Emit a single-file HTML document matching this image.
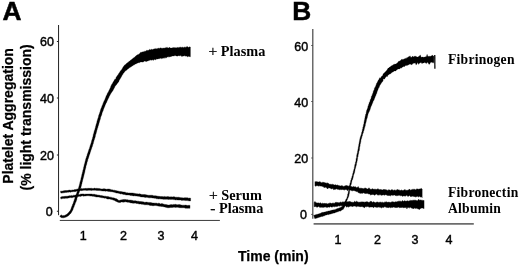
<!DOCTYPE html>
<html lang="en">
<head>
<meta charset="utf-8">
<title>Platelet aggregation</title>
<style>
html,body{margin:0;padding:0;background:#fff;}
body{width:520px;height:265px;overflow:hidden;}
svg{display:block;}
.pl{font:bold 26.3px "Liberation Sans",Arial,sans-serif;fill:#000;stroke:#000;stroke-width:0.5px;}
.tk{font:12.5px "Liberation Sans",Arial,sans-serif;fill:#000;stroke:#000;stroke-width:0.42px;}
.ax{font:bold 14px "Liberation Sans",Arial,sans-serif;fill:#000;stroke:#000;stroke-width:0.25px;}
.sf{font:bold 14.3px "Liberation Serif","Times New Roman",serif;fill:#000;}
.sf .rg{font-weight:normal;font-size:15.5px;stroke:#000;stroke-width:0.25px;}
.sr{font-size:13.6px;letter-spacing:0.25px;}
</style>
</head>
<body>
<svg width="520" height="265" viewBox="0 0 520 265">
<defs><filter id="soft" x="-2%" y="-2%" width="104%" height="104%"><feGaussianBlur stdDeviation="0.32"/></filter></defs>
<rect width="520" height="265" fill="#fff"/>
<g filter="url(#soft)">
<g id="axes">
<line x1="58.55" y1="25" x2="58.55" y2="215.2" stroke="#222" stroke-width="1"/>
<line x1="59.8" y1="220.45" x2="219.9" y2="220.45" stroke="#333" stroke-width="0.95"/>
<line x1="56.9" y1="41.5" x2="58.5" y2="41.5" stroke="#222" stroke-width="1"/>
<line x1="56.9" y1="98" x2="58.5" y2="98" stroke="#222" stroke-width="1"/>
<line x1="56.9" y1="155" x2="58.5" y2="155" stroke="#222" stroke-width="1"/>
<line x1="56.9" y1="211.25" x2="58.5" y2="211.25" stroke="#222" stroke-width="1"/>
<line x1="312.8" y1="29" x2="312.8" y2="218.7" stroke="#444" stroke-width="1.2"/>
<line x1="313.6" y1="223.95" x2="473.8" y2="223.95" stroke="#6c6c6c" stroke-width="1.7"/>
<line x1="311.3" y1="45.5" x2="312.8" y2="45.5" stroke="#444" stroke-width="1"/>
<line x1="311.3" y1="101.5" x2="312.8" y2="101.5" stroke="#444" stroke-width="1"/>
<line x1="311.3" y1="158" x2="312.8" y2="158" stroke="#444" stroke-width="1"/>
<line x1="311.3" y1="214.4" x2="312.8" y2="214.4" stroke="#444" stroke-width="1"/>
</g>
<g id="curves">
<polygon points="59.76,216.45 60.50,217.03 61.45,217.64 62.70,217.80 63.87,217.87 64.79,217.41 65.67,217.14 66.65,216.86 67.60,216.32 68.47,215.77 69.05,215.00 69.79,214.42 70.47,213.76 71.09,213.04 71.53,212.15 72.08,211.31 72.53,210.41 73.02,209.59 73.20,208.70 73.51,207.87 74.04,207.11 74.21,206.20 74.51,205.35 74.99,204.56 75.15,203.66 75.54,202.83 75.89,202.00 76.27,201.16 76.53,200.29 76.85,199.44 76.94,198.52 77.27,197.67 77.53,196.81 77.89,195.99 78.26,195.17 78.44,194.29 78.76,193.48 79.17,192.70 79.32,191.80 79.79,191.01 80.07,190.12 80.29,189.21 80.72,188.37 80.89,187.46 81.14,186.58 81.42,185.71 81.51,184.80 81.88,183.96 82.02,183.07 82.15,182.18 82.52,181.35 82.64,180.45 82.85,179.57 83.13,178.71 83.29,177.82 83.66,176.98 83.70,176.06 84.04,175.21 84.18,174.31 84.42,173.44 84.70,172.59 84.88,171.72 84.96,170.82 85.21,169.95 85.35,169.06 85.68,168.21 85.90,167.34 85.96,166.43 86.23,165.57 86.53,164.73 86.82,163.88 86.87,162.97 87.16,162.12 87.53,161.30 87.73,160.43 87.86,159.54 88.20,158.71 88.55,157.88 88.75,157.01 89.09,156.18 89.27,155.29 89.59,154.46 89.98,153.64 90.10,152.73 90.49,151.91 90.70,151.03 90.97,150.17 91.34,149.35 91.64,148.49 91.87,147.62 92.22,146.78 92.56,145.94 92.65,145.02 93.00,144.18 93.38,143.35 93.47,142.43 93.77,141.57 93.97,140.69 94.31,139.85 94.56,138.98 94.83,138.12 95.12,137.26 95.37,136.40 95.45,135.48 95.70,134.62 96.07,133.79 96.21,132.89 96.52,132.04 96.72,131.17 96.89,130.28 97.21,129.44 97.37,128.56 97.79,127.74 97.94,126.85 98.21,126.00 98.51,125.14 98.77,124.28 98.97,123.40 99.27,122.55 99.50,121.68 99.68,120.80 100.07,119.98 100.30,119.11 100.56,118.25 100.66,117.35 100.98,116.51 101.35,115.69 101.70,114.86 101.97,114.01 102.09,113.11 102.41,112.28 102.74,111.45 103.14,110.66 103.37,109.80 103.60,108.93 104.03,108.15 104.35,107.32 104.72,106.51 104.99,105.65 105.32,104.82 105.81,104.06 106.03,103.18 106.59,102.45 106.91,101.61 107.26,100.79 107.55,99.94 107.99,99.15 108.40,98.36 108.88,97.59 109.08,96.70 109.52,95.93 109.98,95.18 110.32,94.39 110.72,93.63 111.31,92.98 111.71,92.17 112.29,91.42 112.86,90.63 113.34,89.81 113.69,88.96 114.16,88.18 114.60,87.43 114.88,86.62 115.41,85.97 115.93,85.30 116.28,84.51 116.84,83.82 117.38,83.13 118.03,82.49 118.56,81.76 118.95,81.32 115.06,78.69 114.90,79.25 114.31,79.94 113.99,80.82 113.51,81.60 113.00,82.37 112.57,83.21 112.03,84.00 111.51,84.83 111.10,85.70 110.72,86.55 110.53,87.45 110.11,88.22 109.71,88.98 109.42,89.77 108.97,90.49 108.65,91.35 108.20,92.18 107.57,92.91 107.24,93.80 106.92,94.68 106.42,95.45 106.04,96.27 105.79,97.15 105.37,97.96 105.14,98.84 104.76,99.67 104.33,100.46 104.02,101.32 103.52,102.09 103.36,103.01 102.86,103.78 102.68,104.69 102.22,105.48 101.88,106.32 101.67,107.22 101.26,108.04 100.89,108.87 100.61,109.74 100.33,110.61 100.14,111.51 99.78,112.34 99.59,113.24 99.18,114.06 98.92,114.93 98.57,115.77 98.45,116.68 98.26,117.57 97.85,118.39 97.68,119.28 97.32,120.11 97.17,121.01 96.84,121.85 96.79,122.77 96.45,123.61 96.11,124.45 95.96,125.34 95.63,126.18 95.54,127.10 95.27,127.96 94.95,128.81 94.81,129.71 94.42,130.53 94.14,131.39 93.96,132.28 93.79,133.17 93.49,134.02 93.19,134.87 93.11,135.78 92.90,136.65 92.59,137.50 92.44,138.39 92.13,139.23 91.87,140.09 91.60,140.94 91.44,141.83 91.21,142.69 90.91,143.53 90.62,144.38 90.24,145.20 90.16,146.11 89.71,146.91 89.61,147.82 89.29,148.66 88.86,149.47 88.68,150.35 88.37,151.20 88.08,152.05 87.80,152.91 87.47,153.75 87.17,154.60 87.05,155.51 86.62,156.32 86.44,157.21 86.07,158.05 85.78,158.91 85.54,159.79 85.37,160.69 85.10,161.55 84.89,162.44 84.74,163.34 84.36,164.17 84.23,165.07 83.99,165.95 83.84,166.84 83.52,167.69 83.45,168.60 83.24,169.47 82.85,170.30 82.81,171.22 82.50,172.08 82.29,172.96 82.15,173.85 81.79,174.69 81.70,175.58 81.51,176.46 81.29,177.33 80.96,178.17 80.91,179.09 80.73,179.97 80.40,180.81 80.15,181.67 79.87,182.54 79.76,183.44 79.49,184.30 79.33,185.18 79.01,186.02 78.81,186.88 78.56,187.72 78.34,188.56 78.01,189.36 77.64,190.15 77.51,191.06 77.03,191.85 76.81,192.75 76.52,193.62 76.19,194.47 75.76,195.29 75.51,196.16 75.21,197.00 74.90,197.85 74.70,198.73 74.34,199.55 74.08,200.40 73.77,201.23 73.56,202.10 73.22,202.93 72.96,203.78 72.49,204.56 72.29,205.45 71.87,206.24 71.62,207.11 71.21,207.92 71.01,208.82 70.69,209.62 70.33,210.32 69.84,210.94 69.36,211.61 68.73,212.19 68.22,212.89 67.64,213.53 66.89,213.97 66.35,214.53 65.73,214.85 65.04,215.23 64.23,215.54 63.40,215.54 62.80,215.67 62.32,215.57 61.74,215.24 61.06,214.73" fill="#000" stroke="#000" stroke-width="0.3" stroke-linejoin="round"/>
<polygon points="116.00,77.53 116.60,76.66 117.20,75.68 117.80,75.10 118.40,74.23 119.00,73.02 119.60,72.49 120.20,71.19 120.80,70.57 121.40,69.91 122.00,68.96 122.60,67.95 123.20,66.85 123.80,66.30 124.40,65.22 125.00,64.73 125.60,64.46 126.20,63.72 126.80,63.35 127.40,62.76 128.00,62.52 128.60,61.76 129.20,61.36 129.80,60.93 130.40,60.36 131.00,59.93 131.60,59.47 132.20,59.08 132.80,58.42 133.40,58.11 134.00,57.47 134.60,57.18 135.20,56.55 135.80,56.02 136.40,55.62 137.00,55.05 137.60,54.65 138.20,54.63 138.80,53.92 139.40,53.84 140.00,53.21 140.60,52.21 141.20,52.21 141.80,52.30 142.40,51.93 143.00,51.72 143.60,51.78 144.20,51.42 144.80,51.13 145.40,51.27 146.00,50.88 146.60,50.27 147.20,50.43 147.80,50.33 148.40,50.37 149.00,50.14 149.60,49.27 150.20,49.79 150.80,49.63 151.40,49.11 152.00,49.83 152.60,49.59 153.20,49.12 153.80,49.14 154.40,48.65 155.00,48.91 155.60,48.45 156.20,48.94 156.80,48.40 157.40,48.45 158.00,48.65 158.60,47.87 159.20,48.65 159.80,48.09 160.40,48.09 161.00,47.66 161.60,48.26 162.20,48.46 162.80,48.04 163.40,48.04 164.00,48.35 164.60,47.93 165.20,48.12 165.80,47.43 166.40,47.91 167.00,46.92 167.60,48.08 168.20,47.91 168.80,47.93 169.40,47.12 170.00,47.97 170.60,47.94 171.20,47.96 171.80,48.10 172.40,47.81 173.00,47.84 173.60,47.59 174.20,47.85 174.80,47.57 175.40,47.73 176.00,47.64 176.60,47.96 177.20,46.96 177.80,47.94 178.40,47.47 179.00,47.50 179.60,47.32 180.20,47.60 180.80,46.81 181.40,47.50 182.00,47.47 182.60,47.10 183.20,47.50 183.80,47.39 184.40,47.34 185.00,46.68 185.60,47.45 186.20,47.36 186.80,46.47 187.40,46.81 188.00,46.83 188.60,47.44 189.20,47.12 189.80,46.80 190.40,47.02 190.40,56.81 189.80,56.63 189.20,56.51 188.60,56.29 188.00,56.63 187.40,56.75 186.80,56.28 186.20,56.03 185.60,56.15 185.00,55.87 184.40,55.85 183.80,56.05 183.20,56.11 182.60,56.06 182.00,56.70 181.40,55.96 180.80,55.61 180.20,55.71 179.60,55.75 179.00,55.91 178.40,55.48 177.80,56.16 177.20,55.90 176.60,55.99 176.00,56.01 175.40,55.55 174.80,55.60 174.20,55.92 173.60,55.98 173.00,55.94 172.40,56.11 171.80,56.35 171.20,56.42 170.60,56.38 170.00,57.14 169.40,56.63 168.80,56.56 168.20,57.33 167.60,56.88 167.00,56.87 166.40,57.89 165.80,58.23 165.20,57.34 164.60,57.78 164.00,58.51 163.40,57.86 162.80,58.51 162.20,58.07 161.60,58.83 161.00,58.36 160.40,58.36 159.80,58.44 159.20,58.76 158.60,58.65 158.00,58.91 157.40,59.07 156.80,59.29 156.20,58.87 155.60,59.99 155.00,59.42 154.40,59.39 153.80,59.86 153.20,60.44 152.60,59.50 152.00,60.43 151.40,59.94 150.80,59.86 150.20,60.23 149.60,60.35 149.00,60.46 148.40,60.68 147.80,61.06 147.20,60.88 146.60,61.86 146.00,60.86 145.40,61.61 144.80,61.00 144.20,61.25 143.60,61.63 143.00,62.16 142.40,61.95 141.80,61.93 141.20,61.90 140.60,62.07 140.00,62.17 139.40,62.72 138.80,62.65 138.20,62.66 137.60,63.05 137.00,63.18 136.40,63.83 135.80,63.89 135.20,64.09 134.60,64.83 134.00,64.73 133.40,65.20 132.80,65.67 132.20,65.96 131.60,66.47 131.00,66.85 130.40,67.20 129.80,67.50 129.20,68.06 128.60,68.40 128.00,68.89 127.40,69.22 126.80,69.94 126.20,70.45 125.60,70.69 125.00,71.45 124.40,71.90 123.80,72.88 123.20,73.49 122.60,74.86 122.00,75.51 121.40,76.82 120.80,77.80 120.20,78.79 119.60,79.69 119.00,80.80 118.40,81.56 117.80,82.42 117.20,83.30 116.60,84.08 116.00,84.93" fill="#000" stroke="#000" stroke-width="0.3" stroke-linejoin="round"/>
<polygon points="60.81,193.05 61.93,193.11 63.00,192.83 64.10,192.79 65.16,192.42 66.26,192.47 67.33,192.19 68.43,192.21 69.52,191.96 70.65,192.17 71.72,191.74 72.84,191.72 73.94,191.54 75.09,191.65 76.16,191.26 77.25,191.12 78.32,190.91 79.41,190.93 80.45,190.59 81.52,190.63 82.58,190.48 83.66,190.36 84.74,190.21 85.84,190.34 86.94,190.58 88.04,190.35 89.15,190.25 90.26,190.23 91.37,190.54 92.45,190.24 93.53,190.18 94.61,190.25 95.69,190.28 96.76,190.52 97.86,190.41 98.95,190.50 100.04,190.62 101.13,190.81 102.23,190.88 103.33,191.05 104.44,190.93 105.52,191.25 106.63,191.04 107.70,191.28 108.77,191.43 109.83,191.56 110.88,191.71 111.98,191.67 113.01,192.00 114.08,192.20 115.13,192.54 116.18,192.96 117.29,193.07 118.41,193.16 119.47,193.49 120.51,193.95 121.65,193.86 122.72,194.14 123.78,194.46 124.90,194.50 125.94,194.98 127.08,194.91 128.20,195.03 129.31,195.10 130.39,195.45 131.49,195.61 132.59,195.63 133.67,195.90 134.79,195.78 135.87,195.99 136.96,196.06 138.03,196.31 139.13,196.26 140.18,196.70 141.26,196.89 142.36,197.00 143.46,197.11 144.55,197.31 145.66,197.38 146.79,197.26 147.89,197.41 148.95,197.87 150.06,197.84 151.17,197.70 152.25,197.93 153.33,198.07 154.42,198.22 155.51,198.31 156.56,198.75 157.67,198.81 158.77,198.99 159.91,198.84 161.01,199.08 162.13,199.06 163.22,199.37 164.34,199.27 165.45,199.33 166.56,199.20 167.66,199.35 168.77,199.46 169.88,199.31 170.98,199.48 172.08,199.35 173.16,199.61 174.25,199.60 175.30,199.91 176.38,199.87 177.46,199.92 178.54,200.07 179.64,200.07 180.76,200.07 181.84,200.47 182.99,200.28 184.11,200.30 185.21,200.59 186.32,200.53 187.42,200.62 188.52,200.78 189.62,200.92 190.55,200.96 190.64,198.21 189.70,198.10 188.60,198.13 187.52,197.75 186.42,197.80 185.33,197.67 184.24,197.82 183.15,197.91 182.10,197.65 181.01,197.64 179.92,197.54 178.86,197.19 177.72,197.32 176.61,197.20 175.48,197.18 174.38,196.81 173.26,196.76 172.14,197.00 171.04,196.73 169.94,196.96 168.86,196.64 167.77,196.56 166.67,196.69 165.57,196.71 164.50,196.41 163.39,196.65 162.31,196.61 161.23,196.53 160.13,196.54 159.06,196.33 157.97,196.25 156.90,196.01 155.81,195.87 154.71,195.78 153.60,195.77 152.53,195.34 151.43,195.24 150.32,195.28 149.21,195.29 148.11,195.24 147.04,194.97 145.96,194.75 144.89,194.53 143.78,194.61 142.70,194.44 141.59,194.44 140.52,194.11 139.44,193.87 138.31,193.98 137.21,193.80 136.11,193.67 135.03,193.42 133.93,193.29 132.85,193.10 131.75,193.02 130.66,193.00 129.57,192.93 128.48,192.95 127.42,192.75 126.32,192.72 125.30,192.20 124.20,192.11 123.12,191.94 122.03,191.80 120.96,191.56 119.86,191.49 118.81,191.19 117.73,191.03 116.69,190.72 115.61,190.54 114.56,190.18 113.43,190.15 112.35,189.83 111.22,189.75 110.16,189.21 109.03,189.08 107.90,189.02 106.76,189.27 105.66,189.12 104.58,188.83 103.49,188.78 102.38,188.93 101.28,188.90 100.19,188.72 99.11,188.41 97.99,188.50 96.90,188.28 95.77,188.48 94.66,188.11 93.53,188.49 92.41,188.48 91.30,188.24 90.20,188.37 89.11,188.37 88.02,188.29 86.93,188.45 85.82,188.36 84.72,188.51 83.61,188.56 82.49,188.65 81.35,188.52 80.25,188.92 79.14,189.04 77.99,188.95 76.89,189.14 75.85,189.57 74.74,189.51 73.71,189.90 72.62,189.89 71.56,190.13 70.47,190.27 69.36,190.07 68.28,190.37 67.19,190.59 66.06,190.44 64.97,190.62 63.86,190.65 62.79,191.02 61.70,191.17 60.57,191.01" fill="#000" stroke="#000" stroke-width="0.35" stroke-linejoin="round"/>
<polygon points="60.82,198.86 61.93,198.84 62.98,198.33 64.10,198.47 65.19,198.31 66.28,198.19 67.39,198.21 68.47,197.98 69.54,197.69 70.64,197.60 71.76,197.69 72.87,197.58 73.92,197.06 75.06,197.20 76.09,196.64 77.19,196.54 78.29,196.52 79.35,196.28 80.45,196.40 81.50,196.06 82.57,195.83 83.68,196.17 84.75,195.91 85.85,195.98 86.93,195.74 88.02,195.71 89.09,195.84 90.13,196.07 91.21,195.88 92.27,196.17 93.36,196.28 94.45,196.40 95.50,196.76 96.58,196.97 97.69,196.98 98.79,197.09 99.86,197.33 100.94,197.51 102.00,197.79 103.12,197.73 104.15,198.21 105.29,198.09 106.32,198.51 107.34,198.97 108.43,199.12 109.57,198.97 110.61,199.29 111.67,199.52 112.71,199.82 113.73,200.17 114.76,200.43 115.51,201.18 116.43,201.49 117.47,202.08 118.88,202.46 120.34,202.59 121.34,201.97 122.31,202.11 123.27,202.14 124.30,202.12 125.39,201.83 126.43,201.94 127.47,202.19 128.58,202.27 129.69,202.47 130.77,202.88 131.89,202.92 132.97,203.15 134.08,203.13 135.19,203.03 136.24,203.40 137.32,203.45 138.37,203.78 139.42,204.05 140.54,203.93 141.61,204.24 142.70,204.37 143.83,204.42 144.90,204.87 146.06,204.63 147.15,204.87 148.27,204.85 149.35,205.19 150.43,205.48 151.53,205.48 152.61,205.68 153.71,205.70 154.83,205.49 155.93,205.59 157.02,205.70 158.08,206.03 159.17,206.13 160.24,206.23 161.28,206.48 162.34,206.53 163.42,206.66 164.50,206.90 165.56,207.23 166.68,207.56 167.91,207.75 169.12,207.68 170.26,207.52 171.38,207.53 172.50,207.40 173.60,207.19 174.65,207.21 175.65,207.38 176.68,207.34 177.76,207.32 178.82,207.55 179.87,207.67 180.93,207.70 182.06,207.78 183.23,207.69 184.34,207.84 185.43,208.21 186.53,208.21 187.63,208.30 188.74,208.16 189.84,208.23 189.92,208.33 190.07,205.58 189.99,205.38 188.89,205.31 187.78,205.52 186.69,205.33 185.61,205.12 184.50,205.23 183.43,205.18 182.37,205.21 181.32,205.04 180.22,204.66 179.09,204.45 177.94,204.76 176.82,204.64 175.67,204.32 174.48,204.46 173.30,204.43 172.26,204.86 171.16,204.57 170.09,204.78 169.05,205.07 168.05,205.08 167.10,204.86 166.09,204.60 164.99,204.50 163.94,204.18 162.86,203.86 161.73,203.60 160.54,203.89 159.48,203.36 158.38,203.20 157.24,203.49 156.17,203.03 155.05,203.18 153.96,203.05 152.85,203.10 151.76,202.83 150.67,202.58 149.58,202.41 148.49,202.41 147.41,202.29 146.34,202.10 145.24,202.27 144.16,202.18 143.13,201.77 142.04,201.67 140.95,201.49 139.81,201.60 138.74,201.19 137.62,201.13 136.52,200.96 135.43,200.63 134.31,200.77 133.20,200.72 132.14,200.30 131.06,200.21 130.00,200.08 128.91,200.19 127.87,199.75 126.71,199.80 125.57,199.55 124.43,199.41 123.26,199.59 122.06,199.84 120.81,199.91 119.81,200.35 119.05,200.56 118.45,200.14 117.64,199.57 116.64,198.81 115.42,198.57 114.37,198.07 113.26,197.84 112.14,197.69 111.12,197.14 109.97,197.15 108.90,196.82 107.84,196.45 106.69,196.56 105.64,196.20 104.53,196.14 103.44,195.94 102.37,195.66 101.26,195.58 100.14,195.52 99.09,195.09 97.97,195.14 96.91,194.82 95.82,194.72 94.75,194.35 93.64,194.27 92.53,194.25 91.44,194.01 90.28,194.03 89.14,194.06 88.02,194.10 86.90,194.11 85.79,194.07 84.69,194.24 83.56,193.94 82.44,193.88 81.33,194.04 80.21,194.16 79.14,194.66 77.98,194.42 76.89,194.64 75.82,194.94 74.77,195.29 73.65,195.15 72.62,195.66 71.48,195.42 70.43,195.85 69.30,195.67 68.24,196.07 67.16,196.28 66.05,196.26 64.95,196.33 63.86,196.54 62.75,196.47 61.67,196.71 60.60,197.05" fill="#000" stroke="#000" stroke-width="0.35" stroke-linejoin="round"/>
<polygon points="314.65,218.45 315.50,218.50 316.27,218.30 317.01,217.97 317.81,217.85 318.54,217.47 319.31,217.24 320.10,217.07 320.86,216.76 321.60,216.39 322.46,216.41 323.21,216.13 323.92,215.80 324.70,215.68 325.34,215.16 326.08,214.95 326.86,214.92 327.58,214.55 328.41,214.66 329.12,214.19 329.95,214.18 330.71,213.89 331.51,213.69 332.31,213.47 333.10,213.25 333.89,213.03 334.72,212.96 335.44,212.52 336.23,212.32 337.00,212.07 337.76,211.79 338.57,211.60 339.27,211.12 340.16,211.13 340.95,210.82 341.61,210.17 342.39,209.70 343.39,209.27 343.85,208.25 344.33,207.47 344.65,206.64 345.18,205.94 345.28,205.07 345.77,204.39 345.90,203.58 346.10,202.81 346.28,202.03 346.79,201.39 346.92,200.57 347.26,199.84 347.65,199.12 347.80,198.31 348.24,197.60 348.65,196.85 348.71,195.99 349.05,195.24 349.07,194.41 349.30,193.64 349.53,192.86 349.46,192.03 349.67,191.26 349.73,190.46 349.81,189.66 350.28,188.94 350.37,188.14 350.34,187.32 350.61,186.57 350.69,185.77 350.83,184.99 351.30,184.29 351.40,183.50 351.65,182.75 351.59,181.90 352.01,181.20 352.05,180.37 352.55,179.69 352.74,178.91 352.95,178.14 353.20,177.37 353.37,176.58 353.37,175.75 353.79,175.04 353.89,174.23 354.22,173.49 354.51,172.74 354.74,171.97 354.79,171.16 355.00,170.38 355.08,169.57 355.23,168.78 355.73,168.08 355.66,167.23 355.91,166.47 356.16,165.70 356.30,164.91 356.55,164.14 356.54,163.32 356.88,162.57 356.92,161.76 357.24,161.01 357.33,160.21 357.44,159.41 357.64,158.64 357.60,157.81 357.73,157.02 358.20,156.30 358.12,155.47 358.24,154.68 358.46,153.90 358.72,153.14 358.78,152.34 358.88,151.54 359.24,150.79 359.42,150.01 359.49,149.21 359.61,148.42 359.61,147.60 359.80,146.82 360.09,146.06 360.10,145.24 360.11,144.43 360.36,143.66 360.62,142.90 360.70,142.11 360.93,141.35 360.91,140.54 361.05,139.77 361.29,139.01 361.60,138.27 361.80,137.50 361.85,136.69 362.33,136.00 362.46,135.21 362.55,134.40 362.81,133.64 363.23,132.92 363.41,132.14 363.47,131.33 363.94,130.63 364.02,129.83 364.45,129.11 364.39,128.26 364.72,127.51 364.85,126.72 365.31,126.00 365.29,125.16 365.43,124.36 365.63,123.58 365.98,122.83 365.95,122.00 366.35,121.27 366.39,120.46 366.55,119.68 366.75,118.91 367.12,118.18 367.32,117.42 367.45,116.64 367.59,115.87 367.92,115.15 368.00,114.36 368.26,113.61 368.66,112.92 368.84,112.14 369.30,111.47 369.61,110.73 369.87,109.99 370.21,109.27 370.39,108.49 370.62,107.72 370.84,106.95 371.16,106.22 371.59,105.53 371.90,104.80 372.09,104.02 372.48,103.32 372.82,102.60 372.92,101.78 373.33,101.09 373.76,100.40 374.10,99.68 374.37,98.93 374.57,98.15 375.03,97.47 375.11,96.64 375.67,96.00 375.89,95.22 376.08,94.43 376.59,93.76 376.75,92.96 377.02,92.21 377.21,91.43 377.46,90.67 377.96,90.01 378.07,89.21 378.37,88.48 378.70,87.77 379.29,87.17 379.37,86.38 379.70,85.70 380.05,85.03 380.52,84.44 380.87,83.77 381.29,83.14 381.71,82.50 382.31,81.96 382.72,81.29 383.03,80.51 383.30,80.07 379.64,77.76 379.59,78.28 379.06,78.87 378.86,79.71 378.23,80.28 377.86,81.03 377.60,81.86 377.19,82.59 376.64,83.26 376.40,84.10 376.08,84.88 375.78,85.66 375.47,86.42 375.18,87.19 374.63,87.84 374.37,88.61 374.28,89.44 373.83,90.13 373.54,90.88 373.22,91.61 373.13,92.43 372.80,93.16 372.54,93.91 372.21,94.63 372.05,95.43 371.64,96.12 371.26,96.83 371.22,97.67 371.01,98.45 370.68,99.19 370.14,99.84 370.11,100.69 369.88,101.46 369.54,102.19 369.03,102.87 369.01,103.72 368.61,104.43 368.43,105.22 368.18,105.98 367.83,106.71 367.81,107.55 367.60,108.33 367.20,109.04 366.95,109.81 366.62,110.56 366.49,111.37 366.23,112.13 366.19,112.97 366.04,113.78 365.55,114.48 365.50,115.32 365.30,116.11 365.04,116.89 364.97,117.70 364.77,118.49 364.73,119.30 364.49,120.07 364.30,120.85 364.16,121.64 363.96,122.41 364.10,123.25 363.67,123.97 363.55,124.75 363.33,125.50 363.33,126.32 362.97,127.05 362.74,127.81 362.80,128.65 362.39,129.36 362.39,130.20 362.02,130.93 362.06,131.77 361.61,132.47 361.59,133.29 361.32,134.05 361.20,134.84 360.86,135.58 360.67,136.36 360.24,137.07 360.20,137.90 359.88,138.66 359.76,139.46 359.60,140.26 359.52,141.07 359.30,141.85 359.15,142.65 359.01,143.44 358.89,144.23 358.61,144.99 358.74,145.82 358.44,146.58 358.28,147.36 358.17,148.15 358.15,148.96 357.83,149.71 357.80,150.52 357.54,151.28 357.55,152.10 357.35,152.88 357.05,153.63 356.91,154.42 356.71,155.20 356.61,155.99 356.62,156.81 356.59,157.62 356.24,158.36 356.04,159.14 355.99,159.94 355.97,160.75 355.80,161.53 355.45,162.28 355.26,163.05 355.33,163.88 354.84,164.59 354.69,165.38 354.61,166.17 354.51,166.97 354.27,167.73 354.29,168.55 353.92,169.28 353.76,170.06 353.56,170.83 353.26,171.58 353.22,172.40 352.79,173.11 352.82,173.95 352.44,174.67 352.44,175.50 352.12,176.23 351.77,176.96 351.83,177.81 351.28,178.48 351.29,179.32 350.94,180.05 350.63,180.80 350.55,181.61 350.40,182.40 350.02,183.13 349.77,183.90 349.82,184.75 349.42,185.49 349.21,186.27 349.06,187.06 349.13,187.90 348.96,188.68 348.73,189.45 348.56,190.24 348.48,191.04 348.27,191.81 348.22,192.61 348.09,193.40 347.67,194.12 347.55,194.91 347.55,195.72 347.28,196.43 347.00,197.14 346.83,197.91 346.53,198.64 345.99,199.26 345.66,199.98 345.42,200.75 344.88,201.39 344.61,202.17 344.34,202.93 343.91,203.62 343.69,204.38 343.17,204.99 342.79,205.61 342.49,206.28 341.78,206.60 341.48,207.06 340.93,207.21 340.30,207.45 339.60,207.66 339.01,208.20 338.24,208.35 337.48,208.53 336.73,208.76 336.06,209.23 335.29,209.40 334.55,209.68 333.76,209.80 333.03,210.09 332.22,210.11 331.50,210.37 330.76,210.61 329.97,210.63 329.24,210.98 328.43,210.98 327.67,211.26 326.90,211.54 326.05,211.53 325.29,211.90 324.48,212.08 323.68,212.33 322.83,212.37 322.02,212.54 321.25,212.78 320.58,213.26 319.81,213.40 319.08,213.68 318.33,213.93 317.59,214.25 316.76,214.26 316.06,214.70 315.27,214.84 314.52,215.13 313.67,215.07" fill="#000" stroke="#000" stroke-width="0.3" stroke-linejoin="round"/>
<polygon points="379.00,80.42 379.70,79.51 380.40,78.52 381.10,76.68 381.80,76.22 382.50,75.64 383.20,73.84 383.90,73.32 384.60,72.58 385.30,71.71 386.00,71.37 386.70,70.23 387.40,69.36 388.10,68.11 388.80,68.08 389.50,67.12 390.20,66.97 390.90,65.98 391.60,65.80 392.30,65.33 393.00,65.13 393.70,64.31 394.40,64.14 395.10,64.11 395.80,63.88 396.50,63.44 397.20,63.04 397.90,62.33 398.60,61.27 399.30,60.95 400.00,61.13 400.70,60.07 401.40,59.50 402.10,59.10 402.80,59.63 403.50,59.26 404.20,58.82 404.90,58.69 405.60,58.27 406.30,58.57 407.00,57.22 407.70,57.75 408.40,56.72 409.25,56.47 410.10,55.69 410.95,57.38 411.80,57.04 412.65,55.97 413.50,57.09 414.35,56.18 415.20,56.15 416.05,56.22 416.90,56.96 417.75,56.97 418.60,56.43 419.45,55.89 420.30,54.86 421.15,57.33 422.00,56.95 422.85,56.98 423.70,57.29 424.55,57.09 425.40,56.80 426.25,56.77 427.10,54.18 427.95,56.50 428.80,56.33 429.65,56.13 430.50,56.28 431.35,56.00 432.20,55.01 433.05,55.80 433.90,56.21 433.90,62.19 433.05,63.30 432.20,62.37 431.35,62.30 430.50,62.45 429.65,64.23 428.80,64.26 427.95,62.56 427.10,62.61 426.25,63.66 425.40,62.87 424.55,62.62 423.70,62.90 422.85,62.88 422.00,63.84 421.15,62.57 420.30,62.64 419.45,63.28 418.60,64.42 417.75,62.52 416.90,63.94 416.05,65.11 415.20,62.82 414.35,63.35 413.50,63.34 412.65,63.77 411.80,64.90 410.95,64.23 410.10,64.33 409.25,64.36 408.40,64.92 407.70,65.14 407.00,65.43 406.30,65.39 405.60,65.60 404.90,66.33 404.20,66.64 403.50,66.50 402.80,67.04 402.10,67.27 401.40,68.24 400.70,67.72 400.00,68.80 399.30,69.01 398.60,69.01 397.90,69.07 397.20,69.68 396.50,69.99 395.80,71.09 395.10,71.11 394.40,70.96 393.70,71.53 393.00,72.02 392.30,72.34 391.60,72.81 390.90,73.38 390.20,73.99 389.50,74.02 388.80,74.93 388.10,74.86 387.40,76.63 386.70,76.36 386.00,76.94 385.30,77.85 384.60,79.17 383.90,78.77 383.20,79.56 382.50,80.28 381.80,81.68 381.10,81.56 380.40,82.34 379.70,83.58 379.00,84.28" fill="#000" stroke="#000" stroke-width="0.2" stroke-linejoin="round"/>
<path d="M434.1,55 L435.4,55 L435.5,68.8 L434.3,68.8 Z" fill="#000"/>
<polygon points="315.00,181.50 315.90,182.09 316.80,181.62 317.70,181.92 318.60,182.06 319.50,181.72 320.40,181.93 321.30,182.77 322.20,182.42 323.10,182.28 324.00,182.58 324.90,182.77 325.80,183.06 326.70,183.13 327.60,183.00 328.50,183.47 329.40,184.22 330.30,184.30 331.20,184.45 332.10,184.38 333.00,184.17 333.90,185.00 334.80,185.04 335.70,184.87 336.60,185.35 337.50,185.04 338.40,185.60 339.30,185.65 340.20,185.94 341.10,185.89 342.00,185.47 342.90,186.30 343.80,186.40 344.70,186.04 345.60,185.67 346.50,185.62 347.40,185.83 348.30,186.14 349.20,186.06 350.10,186.17 351.00,186.59 351.90,186.67 352.80,187.02 353.70,186.40 354.60,186.98 355.50,186.67 356.40,187.63 357.30,187.60 358.20,186.61 359.10,188.32 360.00,188.37 360.90,188.17 361.80,188.35 362.70,188.61 363.60,188.64 364.50,188.24 365.40,188.11 366.30,188.46 367.20,188.94 368.10,189.05 369.00,187.75 369.90,189.13 370.80,189.32 371.70,189.23 372.60,188.73 373.50,189.32 374.40,189.26 375.30,189.22 376.20,189.58 377.10,189.14 378.00,188.72 378.90,189.41 379.80,189.67 380.70,189.52 381.60,189.86 382.50,190.06 383.40,189.59 384.30,189.62 385.20,189.67 386.10,189.77 387.00,190.18 387.90,190.43 388.80,189.69 389.70,190.11 390.60,190.39 391.50,189.70 392.40,189.79 393.30,190.40 394.20,189.97 395.10,190.13 396.00,190.43 396.90,189.79 397.80,189.60 398.70,190.10 399.60,190.14 400.50,190.50 401.40,190.04 402.30,190.52 403.20,190.51 404.10,190.00 405.00,189.55 405.90,190.39 406.80,190.37 407.70,190.29 408.60,190.04 409.50,188.98 410.40,190.31 411.30,189.94 412.20,189.23 413.10,189.93 414.00,188.83 414.90,189.82 415.80,189.81 416.70,188.97 417.60,189.03 418.50,189.31 419.40,189.07 420.30,188.88 421.20,188.40 422.10,189.01 422.10,197.57 421.20,196.64 420.30,196.97 419.40,196.23 418.50,196.88 417.60,196.37 416.70,196.56 415.80,197.05 414.90,196.39 414.00,196.73 413.10,196.06 412.20,196.23 411.30,196.39 410.40,196.43 409.50,195.24 408.60,196.17 407.70,196.35 406.80,195.03 405.90,195.82 405.00,196.18 404.10,195.64 403.20,195.91 402.30,196.30 401.40,195.54 400.50,195.69 399.60,195.32 398.70,195.15 397.80,195.65 396.90,195.32 396.00,196.05 395.10,195.05 394.20,194.94 393.30,195.17 392.40,195.27 391.50,195.06 390.60,195.79 389.70,195.44 388.80,195.38 387.90,195.39 387.00,195.24 386.10,194.66 385.20,194.70 384.30,195.19 383.40,194.78 382.50,194.98 381.60,195.35 380.70,194.87 379.80,194.87 378.90,194.85 378.00,195.19 377.10,194.49 376.20,194.00 375.30,194.76 374.40,195.16 373.50,194.54 372.60,194.45 371.70,194.38 370.80,195.13 369.90,193.96 369.00,193.91 368.10,193.77 367.20,193.14 366.30,193.39 365.40,193.48 364.50,193.24 363.60,192.79 362.70,193.22 361.80,193.30 360.90,193.02 360.00,193.59 359.10,192.66 358.20,192.61 357.30,191.59 356.40,191.54 355.50,191.12 354.60,190.70 353.70,190.47 352.80,190.79 351.90,190.78 351.00,190.36 350.10,189.92 349.20,189.81 348.30,189.34 347.40,190.70 346.50,189.45 345.60,189.38 344.70,189.81 343.80,190.10 342.90,189.15 342.00,189.76 341.10,189.53 340.20,189.62 339.30,189.67 338.40,189.34 337.50,189.31 336.60,188.80 335.70,189.31 334.80,189.11 333.90,189.89 333.00,188.61 332.10,188.56 331.20,188.97 330.30,187.96 329.40,187.88 328.50,187.76 327.60,188.98 326.70,187.79 325.80,187.16 324.90,187.36 324.00,187.60 323.10,186.53 322.20,186.34 321.30,186.09 320.40,185.99 319.50,185.85 318.60,186.10 317.70,185.66 316.80,185.60 315.90,186.15 315.00,185.86" fill="#000" stroke="#000" stroke-width="0.5" stroke-linejoin="round"/>
<polygon points="314.20,202.24 315.10,201.60 316.00,202.76 316.90,203.06 317.80,202.99 318.70,202.89 319.60,203.25 320.50,202.87 321.40,203.67 322.30,203.18 323.20,203.60 324.10,203.58 325.00,203.22 325.90,203.82 326.80,203.40 327.70,203.91 328.60,203.51 329.50,203.16 330.40,203.09 331.30,203.60 332.20,203.29 333.10,202.95 334.00,203.47 334.90,202.92 335.80,202.29 336.70,202.43 337.60,202.59 338.50,202.66 339.40,202.81 340.30,202.07 341.20,202.38 342.10,202.13 343.00,201.72 343.90,202.16 344.80,202.10 345.70,202.05 346.60,201.94 347.50,201.87 348.40,201.70 349.30,201.56 350.20,201.57 351.10,202.33 352.00,202.05 352.90,202.41 353.80,202.33 354.70,201.20 355.60,202.09 356.50,201.28 357.40,201.85 358.30,202.17 359.20,202.33 360.10,202.02 361.00,202.22 361.90,201.86 362.80,202.02 363.70,202.04 364.60,202.15 365.50,202.08 366.40,201.85 367.30,201.79 368.20,202.34 369.10,202.42 370.00,201.82 370.90,201.21 371.80,201.73 372.70,202.40 373.60,201.77 374.50,202.33 375.40,202.74 376.30,202.31 377.20,202.03 378.10,202.22 379.00,202.65 379.90,202.10 380.80,202.20 381.70,202.38 382.60,202.24 383.50,202.69 384.40,202.15 385.30,202.36 386.20,201.55 387.10,202.61 388.00,202.05 388.90,202.34 389.80,202.33 390.70,202.48 391.60,201.88 392.50,201.80 393.40,201.90 394.30,202.26 395.20,201.79 396.10,202.07 397.00,201.67 397.90,201.58 398.80,201.14 399.70,201.19 400.60,201.24 401.50,201.77 402.40,200.45 403.30,201.52 404.20,200.77 405.10,201.02 406.00,201.36 406.90,201.04 407.80,200.86 408.70,201.15 409.60,200.74 410.50,200.38 411.40,200.57 412.30,200.41 413.20,200.32 414.10,200.18 415.00,200.32 415.90,200.25 416.80,200.67 417.70,200.67 418.60,199.24 419.50,200.20 420.40,200.01 421.30,200.24 422.20,200.18 423.10,200.74 424.00,200.37 424.00,208.73 423.10,207.88 422.20,208.05 421.30,208.11 420.40,208.46 419.50,209.46 418.60,209.06 417.70,208.72 416.80,208.32 415.90,208.22 415.00,208.47 414.10,207.71 413.20,208.97 412.30,208.05 411.40,208.00 410.50,207.16 409.60,207.87 408.70,207.51 407.80,207.15 406.90,208.76 406.00,207.10 405.10,207.77 404.20,207.44 403.30,207.65 402.40,207.36 401.50,207.50 400.60,207.42 399.70,207.69 398.80,207.12 397.90,207.37 397.00,207.44 396.10,207.50 395.20,207.42 394.30,207.14 393.40,207.07 392.50,207.40 391.60,207.35 390.70,207.74 389.80,207.22 388.90,207.26 388.00,207.99 387.10,207.06 386.20,207.54 385.30,206.86 384.40,206.86 383.50,207.41 382.60,207.06 381.70,208.12 380.80,207.28 379.90,207.38 379.00,206.71 378.10,207.15 377.20,207.25 376.30,207.32 375.40,207.00 374.50,206.75 373.60,207.66 372.70,206.94 371.80,206.92 370.90,207.01 370.00,206.93 369.10,207.34 368.20,206.62 367.30,206.48 366.40,206.81 365.50,206.44 364.60,207.70 363.70,207.17 362.80,206.81 361.90,206.49 361.00,206.63 360.10,206.66 359.20,206.53 358.30,206.33 357.40,206.29 356.50,206.75 355.60,206.23 354.70,206.09 353.80,205.95 352.90,206.41 352.00,206.55 351.10,205.90 350.20,206.18 349.30,206.61 348.40,207.06 347.50,206.60 346.60,207.15 345.70,205.66 344.80,206.11 343.90,206.20 343.00,205.47 342.10,206.31 341.20,205.54 340.30,205.76 339.40,206.10 338.50,205.87 337.60,206.35 336.70,206.51 335.80,206.24 334.90,206.80 334.00,206.57 333.10,206.55 332.20,207.09 331.30,207.01 330.40,206.58 329.50,207.17 328.60,206.92 327.70,207.20 326.80,207.53 325.90,206.86 325.00,207.13 324.10,206.89 323.20,207.39 322.30,207.20 321.40,207.13 320.50,207.26 319.60,207.37 318.70,206.30 317.80,206.96 316.90,207.16 316.00,206.57 315.10,206.39 314.20,206.70" fill="#000" stroke="#000" stroke-width="0.5" stroke-linejoin="round"/>
</g>
<g id="labels">
<text x="2.5" y="20.3" class="pl">A</text>
<text x="292.2" y="20.0" class="pl">B</text>
<text x="54" y="46.2" class="tk" text-anchor="end">60</text>
<text x="54" y="102.7" class="tk" text-anchor="end">40</text>
<text x="54" y="159.7" class="tk" text-anchor="end">20</text>
<text x="52.6" y="215.95" class="tk" text-anchor="end">0</text>
<text x="83.2" y="239.6" class="tk" text-anchor="middle">1</text>
<text x="123.6" y="239.6" class="tk" text-anchor="middle">2</text>
<text x="160.9" y="239.6" class="tk" text-anchor="middle">3</text>
<text x="194.6" y="239.6" class="tk" text-anchor="middle">4</text>
<text x="308.1" y="50.5" class="tk" text-anchor="end">60</text>
<text x="308.1" y="106.5" class="tk" text-anchor="end">40</text>
<text x="308.1" y="163.0" class="tk" text-anchor="end">20</text>
<text x="306.9" y="219.39999999999998" class="tk" text-anchor="end">0</text>
<text x="338" y="243.8" class="tk" text-anchor="middle">1</text>
<text x="377.6" y="243.8" class="tk" text-anchor="middle">2</text>
<text x="415" y="243.8" class="tk" text-anchor="middle">3</text>
<text x="448.9" y="243.8" class="tk" text-anchor="middle">4</text>
<text x="208.5" y="55.6" class="sf"><tspan class="rg">+</tspan> Plasma</text>
<text x="209.0" y="200.2" class="sf"><tspan class="rg">+</tspan> Serum</text>
<text x="210.2" y="212.5" class="sf"><tspan class="rg">-</tspan> Plasma</text>
<text x="448" y="64.2" class="sf sr">Fibrinogen</text>
<text x="448" y="196.7" class="sf sr">Fibronectin</text>
<text x="448" y="212.6" class="sf sr">Albumin</text>
<text x="273.3" y="261" class="ax" text-anchor="middle">Time (min)</text>
<text transform="translate(12.9,115.9) rotate(-90)" class="ax" text-anchor="middle">Platelet Aggregation</text>
<text transform="translate(31.4,117.4) rotate(-90)" class="ax" text-anchor="middle">(% light transmission)</text>
</g>
</g>
</svg>
</body>
</html>
